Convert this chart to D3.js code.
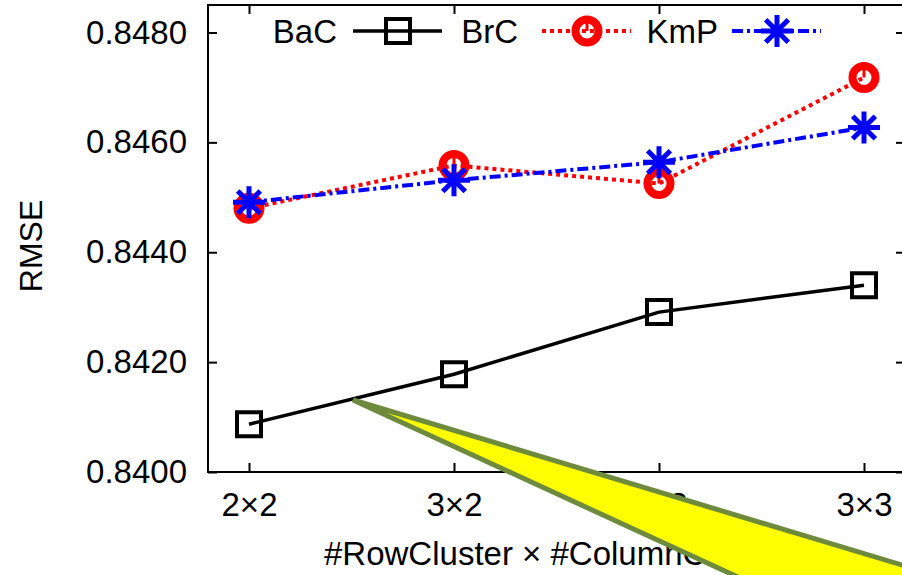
<!DOCTYPE html>
<html>
<head>
<meta charset="utf-8">
<script src="https://cdn.jsdelivr.net/npm/d3@7"></script>
<style>
  body { margin: 0; background: #fff; }
  svg { display: block; font-family: "Liberation Sans", Arial, sans-serif; }
  .axis text { font-size: 33px; fill: #000; }
  .axis line { stroke: #000; stroke-width: 2; }
</style>
</head>
<body>
<div id="chart"></div>
<script>
var categories = ["2×2", "3×2", "2×3", "3×3"];
var bacValues = [0.84087, 0.84178, 0.84291, 0.84340];
var brcValues = [0.84480, 0.84558, 0.84525, 0.84718];
var kmpValues = [0.84491, 0.84531, 0.84564, 0.84627];
var yTicks = [0.8400, 0.8420, 0.8440, 0.8460, 0.8480];
var seriesNames = ["BaC", "BrC", "KmP"];

var svg_width = 902, svg_height = 575;
var margin = { left: 208, top: 5 };
var width = 697, height = 467;

var svg = d3.select("#chart")
    .append("svg")
    .attr("width", svg_width)
    .attr("height", svg_height);

var g = svg.append("g")
    .attr("transform", "translate(" + margin.left + "," + margin.top + ")");

var xScale = d3.scalePoint()
    .domain(categories)
    .range([0, width])
    .padding(0.2);

var yScale = d3.scaleLinear()
    .domain([0.84, 0.8485])
    .range([height, 0]);

// axes, ticks pointing inward like gnuplot
g.append("g")
    .attr("class", "axis")
    .call(d3.axisLeft(yScale).tickValues(yTicks).tickFormat(d3.format(".4f"))
        .tickSize(-9).tickPadding(21))
    .call(function(a) { a.select(".domain").remove(); });

g.append("g")
    .attr("class", "axis")
    .attr("transform", "translate(" + width + ",0)")
    .call(d3.axisRight(yScale).tickValues(yTicks).tickFormat("").tickSize(-9))
    .call(function(a) { a.select(".domain").remove(); });

g.append("g")
    .attr("class", "axis")
    .attr("transform", "translate(0," + height + ")")
    .call(d3.axisBottom(xScale).tickSize(-9).tickPadding(21))
    .call(function(a) { a.select(".domain").remove(); });

g.append("g")
    .attr("class", "axis")
    .call(d3.axisTop(xScale).tickFormat("").tickSize(-9))
    .call(function(a) { a.select(".domain").remove(); });

g.append("rect")
    .attr("width", width)
    .attr("height", height)
    .attr("fill", "none")
    .attr("stroke", "#000")
    .attr("stroke-width", 2);

svg.append("text")
    .attr("transform", "translate(42,246) rotate(-90)")
    .attr("text-anchor", "middle")
    .style("font-size", "32px")
    .text("RMSE");

svg.append("text")
    .attr("x", 324)
    .attr("y", 565)
    .style("font-size", "33px")
    .text("#RowCluster × #ColumnCluster");

// marker shapes
var squareSym = { draw: function(c, s) { c.rect(-12, -12, 24, 24); } };
var ringSym = { draw: function(c, s) { c.moveTo(11.5, 0); c.arc(0, 0, 11.5, 0, 2 * Math.PI); } };
var starSym = {
    draw: function(c, s) {
        var r = 16, d = r * Math.SQRT1_2;
        c.moveTo(-r, 0); c.lineTo(r, 0);
        c.moveTo(0, -r); c.lineTo(0, r);
        c.moveTo(-d, -d); c.lineTo(d, d);
        c.moveTo(-d, d); c.lineTo(d, -d);
    }
};

var series = [
    { name: seriesNames[0], values: bacValues, color: "#000", dash: null, sym: squareSym, mw: 4, lw: 3.5 },
    { name: seriesNames[1], values: brcValues, color: "#ff0000", dash: "4,4", sym: ringSym, mw: 8, lw: 4 },
    { name: seriesNames[2], values: kmpValues, color: "#0000ff", dash: "11,4,3,4", sym: starSym, mw: 5, lw: 4 }
];

var line = d3.line()
    .x(function(d, i) { return xScale(categories[i]); })
    .y(function(d) { return yScale(d); });

function drawMarker(sel, s) {
    sel.append("path")
        .attr("d", d3.symbol().type(s.sym)())
        .attr("fill", "none")
        .attr("stroke", s.color)
        .attr("stroke-width", s.mw);
    if (s.sym === ringSym) {
        sel.append("line")
            .attr("y2", -8)
            .attr("stroke", s.color)
            .attr("stroke-width", 3);
    }
}

series.forEach(function(s) {
    g.append("path")
        .datum(s.values)
        .attr("d", line)
        .attr("fill", "none")
        .attr("stroke", s.color)
        .attr("stroke-width", s.lw)
        .attr("stroke-dasharray", s.dash);

    g.selectAll(null)
        .data(s.values)
        .enter()
        .append("g")
        .attr("transform", function(d, i) {
            return "translate(" + xScale(categories[i]) + "," + yScale(d) + ")";
        })
        .each(function() { drawMarker(d3.select(this), s); });
});

// legend
var legendX = [353, 542, 732];
var legendTextX = [337, 518, 718];
var legend = svg.append("g");
series.forEach(function(s, i) {
    var x0 = legendX[i];
    legend.append("text")
        .attr("x", legendTextX[i])
        .attr("y", 43)
        .attr("text-anchor", "end")
        .style("font-size", "33px")
        .text(s.name);
    legend.append("line")
        .attr("x1", x0).attr("x2", x0 + 89)
        .attr("y1", 31).attr("y2", 31)
        .attr("stroke", s.color)
        .attr("stroke-width", s.lw)
        .attr("stroke-dasharray", s.dash);
    var m = legend.append("g").attr("transform", "translate(" + (x0 + 45) + ",31)");
    drawMarker(m, s);
});

// yellow callout pointer on top
svg.append("polygon")
    .attr("points", "353,400 1100,624.5 1100,900 1440,900")
    .attr("fill", "#ffff00")
    .attr("stroke", "#6e8b3d")
    .attr("stroke-width", 5)
    .attr("stroke-linejoin", "miter");
</script>
</body>
</html>
